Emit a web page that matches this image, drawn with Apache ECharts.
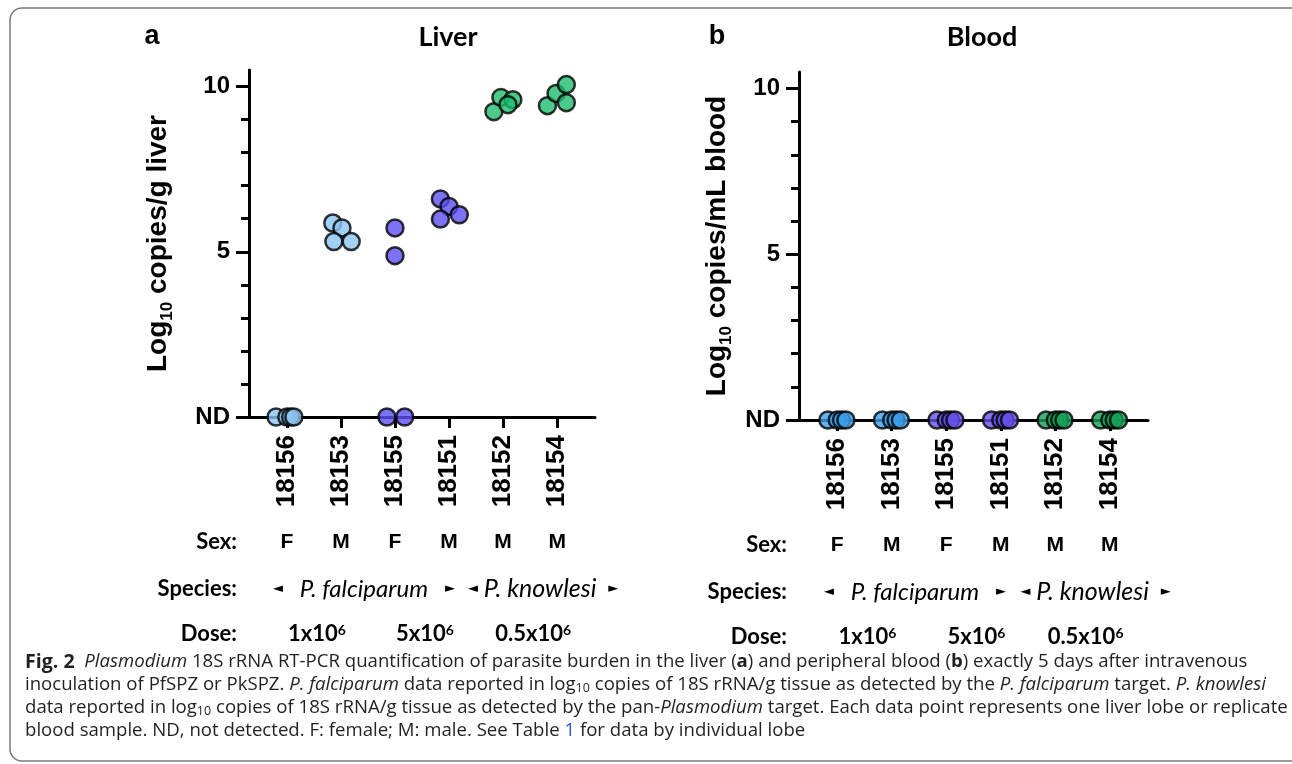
<!DOCTYPE html>
<html><head><meta charset="utf-8">
<script src="https://cdn.jsdelivr.net/npm/echarts@6/dist/echarts.min.js"></script>
<style>html,body{margin:0;padding:0;background:#fff}#c{width:1292px;height:764px}</style>
</head><body><div id="c"></div>
<script>
// ---------------- data ----------------
const animals = ['18156', '18153', '18155', '18151', '18152', '18154'];
const sexes = ['F', 'M', 'F', 'M', 'M', 'M'];
const yTickValues = [0, 5, 10];
const yMinorTickValues = [0, 1, 2, 3, 4, 5, 6, 7, 8, 9, 10];
const doses = ['1x10', '5x10', '0.5x10'];
const doseExp = '6';
const doseAt = [1.5, 3.5, 5.5];          // centred between animal pairs
const speciesNames = ['P. falciparum', 'P. knowlesi'];
const speciesAt = [2.5, 5.5];

// Liver (log10 copies/g), 0 = ND
const liver_18156 = [0, 0, 0, 0];
const liver_18153 = [5.87, 5.72, 5.31, 5.31];
const liver_18155 = [5.72, 4.88, 0, 0];
const liver_18151 = [6.60, 6.37, 6.12, 5.99];
const liver_18152 = [9.24, 9.67, 9.60, 9.45];
const liver_18154 = [9.42, 9.79, 10.06, 9.51];
// jitter (category units) of each lobe within its column
const liverJitter_18156 = [-0.20, 0.00, 0.07, 0.13];
const liverJitter_18153 = [-0.15, 0.02, -0.13, 0.19];
const liverJitter_18155 = [0.00, 0.00, -0.15, 0.18];
const liverJitter_18151 = [-0.16, 0.00, 0.19, -0.16];
const liverJitter_18152 = [-0.17, -0.04, 0.18, 0.09];
const liverJitter_18154 = [-0.18, -0.02, 0.17, 0.17];

// Blood (log10 copies/mL), all ND
const blood_18156 = [0, 0, 0, 0];
const blood_18153 = [0, 0, 0, 0];
const blood_18155 = [0, 0, 0, 0];
const blood_18151 = [0, 0, 0, 0];
const blood_18152 = [0, 0, 0, 0];
const blood_18154 = [0, 0, 0, 0];
const bloodJitter = [-0.17, 0.00, 0.08, 0.16];

// ---------------- styles ----------------
const liverColors = ['#8cc4f2', '#8cc4f2', '#5b4ff0', '#5b4ff0', '#1fbd6e', '#1fbd6e'];
const bloodColors = ['#3d9de8', '#3d9de8', '#6550e8', '#6550e8', '#17a058', '#17a058'];
const FA = '"Liberation Sans", Arial, sans-serif';
const FC = 'Lato, "Open Sans", sans-serif';
const FCAP = '"Open Sans", "Noto Sans", sans-serif';

const liverSets = [liver_18156, liver_18153, liver_18155, liver_18151, liver_18152, liver_18154];
const liverJit = [liverJitter_18156, liverJitter_18153, liverJitter_18155, liverJitter_18151, liverJitter_18152, liverJitter_18154];
const bloodSets = [blood_18156, blood_18153, blood_18155, blood_18151, blood_18152, blood_18154];

const chart = echarts.init(document.getElementById('c'), null, {renderer: 'canvas'});

const gridDefs = [
  {left: 249, top: 70, width: 346, bottom: 347},
  {left: 799, top: 72, width: 349, bottom: 344}
];

function xAxisDef(gi) {
  return {
    type: 'value', gridIndex: gi, min: 0.3, max: 6.7,
    splitLine: {show: false},
    axisLine: {show: true, onZero: false, lineStyle: {color: '#000', width: 3}},
    axisTick: {show: true, length: 11, lineStyle: {color: '#000', width: 3}, customValues: [1, 2, 3, 4, 5, 6]},
    axisLabel: {
      customValues: [1, 2, 3, 4, 5, 6], rotate: 90, margin: 18,
      formatter: v => animals[Math.round(v) - 1] || '',
      fontFamily: FA, fontWeight: 'bold', fontSize: 26, color: '#000'
    }
  };
}
function yMajor(gi, name, gap) {
  return {
    type: 'value', gridIndex: gi, min: 0, max: 10.5, position: 'left',
    splitLine: {show: false},
    axisLine: {show: true, onZero: false, lineStyle: {color: '#000', width: 3}},
    axisTick: {show: true, length: 13, lineStyle: {color: '#000', width: 3}, customValues: yTickValues},
    axisLabel: {
      customValues: yTickValues, margin: 19,
      formatter: v => (v === 0 ? 'ND' : String(v)),
      fontFamily: FA, fontWeight: 'bold', fontSize: 24, color: '#000'
    },
    name: name, nameLocation: 'middle', nameRotate: 90, nameGap: gap,
    nameTextStyle: {
      rich: {
        b: {fontFamily: FA, fontWeight: 'bold', fontSize: 28, color: '#000'},
        s: {fontFamily: FA, fontWeight: 'bold', fontSize: 17, color: '#000', verticalAlign: 'bottom', padding: [0, 0, -4, 0]}
      }
    }
  };
}
// minor ticks: a second axis placed on the right side, shifted back onto the left axis line
function yMinor(gi) {
  return {
    type: 'value', gridIndex: gi, min: 0, max: 10.5, position: 'right',
    offset: -gridDefs[gi].width,
    splitLine: {show: false},
    axisLine: {show: false},
    axisTick: {show: true, inside: true, length: 8, lineStyle: {color: '#000', width: 3}, customValues: yMinorTickValues},
    axisLabel: {show: false}
  };
}
function buildSeries(sets, jitFn, colors, xi, yi) {
  return sets.map((vals, k) => ({
    type: 'scatter', xAxisIndex: xi, yAxisIndex: yi, clip: false,
    symbol: 'circle', symbolSize: 17, silent: true,
    itemStyle: {color: colors[k], borderColor: '#000', borderWidth: 2.5},
    data: vals.map((v, j) => [k + 1 + jitFn(k, j), v])
  }));
}

chart.setOption({
  animation: false,
  backgroundColor: '#fff',
  grid: gridDefs,
  xAxis: [xAxisDef(0), xAxisDef(1)],
  yAxis: [
    yMajor(0, '{b|Log}{s|10}{b| copies/g liver}', 77), yMinor(0),
    yMajor(1, '{b|Log}{s|10}{b| copies/mL blood}', 68), yMinor(1)
  ],
  series: [].concat(
    buildSeries(liverSets, (k, j) => liverJit[k][j], liverColors, 0, 0),
    buildSeries(bloodSets, (k, j) => bloodJitter[j], bloodColors, 1, 2)
  )
});

// ---------------- annotation rows (positions from the axes' scales) ----------------
const g = [];
g.push({type: 'rect', silent: true, shape: {x: 10, y: 8, width: 1300, height: 753, r: 12},
  style: {fill: 'none', stroke: '#7a7a7a', lineWidth: 1.5}});
function txt(x, y, text, font, extra) {
  g.push({type: 'text', silent: true, x: x, y: y,
    style: Object.assign({text: text, fill: '#000', align: 'center', verticalAlign: 'middle'}, font, extra || {})});
}
const boldA = (s) => ({fontFamily: FA, fontWeight: 'bold', fontSize: s});
const boldC = (s) => ({fontFamily: FC, fontWeight: 'bold', fontSize: s});

[0, 1].forEach(p => {
  const px = v => chart.convertToPixel({xAxisIndex: p}, v);
  const nd = chart.convertToPixel({yAxisIndex: p * 2}, 0);
  const ax = px(0.3);
  const ySex = nd + 125, ySp = nd + 172, yDose = nd + 217;
  txt(ax - 12, ySex, 'Sex:', boldC(22), {align: 'right'});
  txt(ax - 12, ySp, 'Species:', boldC(22), {align: 'right'});
  txt(ax - 12, yDose, 'Dose:', boldC(22), {align: 'right'});
  sexes.forEach((s, k) => txt(px(k + 1), ySex, s, boldA(21)));
  speciesNames.forEach((s, k) => {
    const arrL = k === 0 ? '{a|◄}{i|   ' : '{a|◄}{i| ';
    const arrR = k === 0 ? '   }{a|►}' : '  }{a|►}';
    const shift = k === 0 ? -4 : 13;
    g.push({type: 'text', silent: true, x: px(speciesAt[k]) + shift, y: ySp,
      style: {text: arrL + s + arrR, align: 'center', verticalAlign: 'middle',
        rich: {
          a: {fontFamily: '"DejaVu Sans", sans-serif', fontSize: 13, fill: '#000'},
          i: {fontFamily: FC, fontStyle: 'italic', fontSize: k === 0 ? 24 : 25, fill: '#000'}
        }}});
  });
  doses.forEach((d, k) => {
    g.push({type: 'text', silent: true, x: px(doseAt[k]) + 3, y: yDose,
      style: {text: '{n|' + d + '}{e|' + doseExp + '}', align: 'center', verticalAlign: 'middle',
        rich: {
          n: {fontFamily: FC, fontWeight: 'bold', fontSize: 22, fill: '#000'},
          e: {fontFamily: FC, fontWeight: 'bold', fontSize: 14, fill: '#000', verticalAlign: 'top'}
        }}});
  });
});

txt(152, 37, 'a', boldA(27));
txt(448, 37, 'Liver', boldC(27));
txt(717, 37, 'b', boldA(27));
txt(982, 37, 'Blood', boldC(27));

// ---------------- caption ----------------
const CS = 18.6;
const capRich = {
  t: {fontFamily: FCAP, fontSize: CS, fill: '#231f20'},
  i: {fontFamily: FCAP, fontSize: CS, fontStyle: 'italic', fill: '#231f20'},
  b: {fontFamily: FCAP, fontSize: CS, fontWeight: 'bold', fill: '#231f20'},
  f: {fontFamily: FCAP, fontSize: CS + 1, fontWeight: 'bold', fill: '#231f20'},
  s: {fontFamily: FCAP, fontSize: 12.5, fill: '#231f20', verticalAlign: 'bottom'},
  l: {fontFamily: FCAP, fontSize: CS, fill: '#1f5bd6'}
};
const capLines = [
  '{f|Fig. 2}{t|  }{i|Plasmodium}{t| 18S rRNA RT-PCR quantification of parasite burden in the liver (}{b|a}{t|) and peripheral blood (}{b|b}{t|) exactly 5 days after intravenous}',
  '{t|inoculation of PfSPZ or PkSPZ. }{i|P. falciparum}{t| data reported in log}{s|10}{t| copies of 18S rRNA/g tissue as detected by the }{i|P. falciparum}{t| target. }{i|P. knowlesi}',
  '{t|data reported in log}{s|10}{t| copies of 18S rRNA/g tissue as detected by the pan-}{i|Plasmodium}{t| target. Each data point represents one liver lobe or replicate}',
  '{t|blood sample. ND, not detected. F: female; M: male. See Table }{l|1}{t| for data by individual lobe}'
];
const capY = [662, 685, 708, 731];
capLines.forEach((l, k) => {
  g.push({type: 'text', silent: true, x: 25, y: capY[k],
    style: {text: l, align: 'left', verticalAlign: 'middle', rich: capRich}});
});

chart.setOption({graphic: g});
</script>
</body></html>
